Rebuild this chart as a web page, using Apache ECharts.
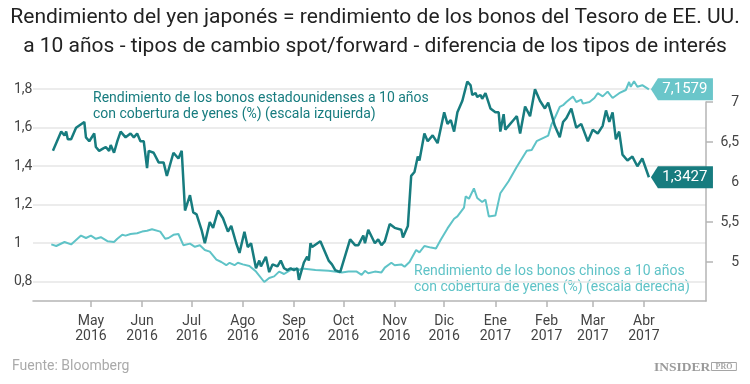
<!DOCTYPE html>
<html><head><meta charset="utf-8">
<script src="https://cdn.jsdelivr.net/npm/echarts@6/dist/echarts.min.js"></script>
<style>html,body{margin:0;padding:0;background:#fff}#c{width:750px;height:384px}</style>
</head><body><div id="c"></div>
<script>
const titleLines = ['Rendimiento del yen japonés = rendimiento de los bonos del Tesoro de EE. UU.',
  'a 10 años - tipos de cambio spot/forward - diferencia de los tipos de interés'];
const usLabel = ['Rendimiento de los bonos estadounidenses a 10 años', 'con cobertura de yenes (%) (escala izquierda)'];
const cnLabel = ['Rendimiento de los bonos chinos a 10 años', 'con cobertura de yenes (%) (escala derecha)'];
const sourceText = 'Fuente: Bloomberg';

const usDates = ['2016-04-08','2016-04-13','2016-04-15','2016-04-16','2016-04-17','2016-04-19','2016-04-22','2016-04-23','2016-04-27','2016-04-28','2016-04-30',
'2016-05-03','2016-05-04','2016-05-06','2016-05-08','2016-05-10','2016-05-12','2016-05-13','2016-05-15','2016-05-17','2016-05-19','2016-05-22','2016-05-25','2016-05-27','2016-05-29','2016-05-31',
'2016-06-02','2016-06-04','2016-06-05','2016-06-08','2016-06-11','2016-06-14','2016-06-16','2016-06-20','2016-06-23','2016-06-25','2016-06-27','2016-06-30',
'2016-07-02','2016-07-04','2016-07-07','2016-07-09','2016-07-12','2016-07-14','2016-07-17','2016-07-20','2016-07-23','2016-07-25','2016-07-28','2016-07-30',
'2016-08-02','2016-08-04','2016-08-06','2016-08-09','2016-08-11','2016-08-12','2016-08-15','2016-08-17','2016-08-19','2016-08-22','2016-08-24','2016-08-26','2016-08-28','2016-08-30',
'2016-09-01','2016-09-03','2016-09-04','2016-09-07','2016-09-09','2016-09-10','2016-09-11','2016-09-12','2016-09-17','2016-09-22','2016-09-24','2016-09-26','2016-09-29',
'2016-10-05','2016-10-08','2016-10-10','2016-10-13','2016-10-14','2016-10-16','2016-10-20','2016-10-22','2016-10-24','2016-10-26','2016-10-29',
'2016-11-01','2016-11-05','2016-11-06','2016-11-09','2016-11-11','2016-11-13','2016-11-15','2016-11-16','2016-11-19','2016-11-21','2016-11-24','2016-11-27',
'2016-12-01','2016-12-03','2016-12-05','2016-12-07','2016-12-09','2016-12-12','2016-12-15','2016-12-17','2016-12-18','2016-12-20','2016-12-21','2016-12-23','2016-12-24','2016-12-26','2016-12-29',
'2017-01-01','2017-01-03','2017-01-04','2017-01-06','2017-01-07','2017-01-10','2017-01-12','2017-01-14','2017-01-16','2017-01-19','2017-01-22','2017-01-25','2017-01-28','2017-01-31',
'2017-02-02','2017-02-06','2017-02-09','2017-02-11','2017-02-13','2017-02-16','2017-02-19','2017-02-22','2017-02-26',
'2017-03-01','2017-03-04','2017-03-07','2017-03-09','2017-03-11','2017-03-13','2017-03-15','2017-03-17','2017-03-19','2017-03-22','2017-03-25','2017-03-28','2017-03-31','2017-04-04'];
const usValues = [1.48,1.58,1.56,1.58,1.54,1.54,1.60,1.59,1.63,1.55,1.53,
1.57,1.50,1.48,1.49,1.50,1.48,1.51,1.47,1.53,1.58,1.55,1.57,1.55,1.57,1.53,
1.53,1.39,1.48,1.47,1.42,1.42,1.35,1.47,1.44,1.48,1.17,1.25,
1.16,1.15,1.07,1.00,1.11,1.08,1.17,1.13,1.06,1.09,1.00,0.95,
1.06,0.98,1.00,0.87,0.91,0.88,0.93,0.85,0.89,0.88,0.91,0.87,0.86,0.87,
0.86,0.87,0.81,0.90,0.93,0.91,1.00,0.98,1.01,0.91,0.89,0.86,0.85,
1.02,0.99,0.99,1.04,1.00,1.07,1.00,1.02,0.99,1.01,1.10,
1.08,1.07,1.03,1.09,1.35,1.37,1.45,1.43,1.57,1.53,1.56,1.52,
1.68,1.62,1.64,1.58,1.68,1.74,1.84,1.82,1.77,1.78,1.76,1.77,1.75,1.78,1.70,
1.68,1.68,1.58,1.67,1.59,1.62,1.64,1.66,1.57,1.71,1.66,1.80,1.74,1.70,
1.73,1.61,1.55,1.63,1.65,1.70,1.60,1.62,1.53,
1.59,1.57,1.61,1.69,1.63,1.68,1.54,1.58,1.46,1.43,1.45,1.40,1.44,1.3427];

const cnDates = ['2016-04-07','2016-04-10','2016-04-15','2016-04-19','2016-04-25','2016-04-28',
'2016-05-01','2016-05-04','2016-05-07','2016-05-11','2016-05-15','2016-05-17','2016-05-20','2016-05-22','2016-05-25','2016-05-29',
'2016-06-01','2016-06-04','2016-06-07','2016-06-12','2016-06-15','2016-06-17','2016-06-20','2016-06-23','2016-06-26','2016-06-30',
'2016-07-03','2016-07-06','2016-07-09','2016-07-12','2016-07-16','2016-07-19','2016-07-22','2016-07-24','2016-07-27','2016-07-29',
'2016-08-01','2016-08-05','2016-08-09','2016-08-14','2016-08-17','2016-08-20','2016-08-23','2016-08-26','2016-08-29',
'2016-09-01','2016-09-04','2016-09-06','2016-09-14','2016-09-22','2016-09-30',
'2016-10-04','2016-10-09','2016-10-12','2016-10-14','2016-10-16','2016-10-20','2016-10-24','2016-10-26','2016-10-30',
'2016-11-01','2016-11-05','2016-11-07','2016-11-10','2016-11-14','2016-11-16','2016-11-19','2016-11-23','2016-11-26','2016-11-29',
'2016-12-03','2016-12-07','2016-12-09','2016-12-13','2016-12-14','2016-12-16','2016-12-19','2016-12-21','2016-12-24','2016-12-26','2016-12-28',
'2017-01-01','2017-01-04','2017-01-09','2017-01-14','2017-01-20','2017-01-23','2017-01-26',
'2017-02-02','2017-02-04','2017-02-06','2017-02-09','2017-02-11','2017-02-13','2017-02-17','2017-02-19','2017-02-22','2017-02-23','2017-02-27',
'2017-03-02','2017-03-04','2017-03-07','2017-03-10','2017-03-13','2017-03-17','2017-03-21','2017-03-23','2017-03-24','2017-03-26','2017-03-28','2017-03-31','2017-04-04'];
const cnValues = [5.22,5.20,5.25,5.22,5.33,5.30,
5.33,5.29,5.31,5.26,5.25,5.29,5.34,5.33,5.35,5.36,
5.38,5.39,5.41,5.38,5.29,5.30,5.34,5.35,5.21,5.23,
5.19,5.21,5.15,5.13,5.03,5.00,4.96,4.99,4.96,4.99,
4.97,4.95,4.88,4.75,4.80,4.82,4.88,4.85,4.89,
4.92,4.90,4.92,4.90,4.89,4.87,
4.88,4.88,4.84,4.89,4.86,4.88,4.87,4.93,4.99,
4.96,4.97,4.94,5.00,5.15,5.12,5.20,5.18,5.17,5.28,
5.42,5.54,5.57,5.68,5.82,5.79,5.92,5.80,5.75,5.78,5.57,
5.58,5.86,6.01,6.19,6.39,6.40,6.51,
6.58,6.72,6.80,6.94,6.96,7.00,7.07,7.00,7.03,6.98,7.00,
7.05,7.11,7.07,7.13,7.05,7.11,7.15,7.25,7.19,7.26,7.19,7.21,7.1579];

const monthTickDates = ['2016-05-01','2016-06-01','2016-07-01','2016-08-01','2016-09-01','2016-10-01','2016-11-01','2016-12-01','2017-01-01','2017-02-01','2017-03-01','2017-04-01'];
const monthTickLabels = ['May\n2016','Jun\n2016','Jul\n2016','Ago\n2016','Sep\n2016','Oct\n2016','Nov\n2016','Dic\n2016','Ene\n2017','Feb\n2017','Mar\n2017','Abr\n2017'];
const leftTicks = [0.8, 1, 1.2, 1.4, 1.6, 1.8];
const rightTicks = [5, 5.5, 6, 6.5, 7];

const DARK = '#177c7f', LIGHT = '#5fc3c7', DARK_TAG = '#177c7f', LIGHT_TAG = '#6ac6ca';
const FONT = 'Roboto';
const fmtNum = v => String(v).replace('.', ',');
const T = s => Date.parse(s.length === 10 ? s + 'T00:00:00Z' : s + 'Z');
const xMin = T('2016-03-26T22:00:00'), xMax = T('2017-05-08T14:00:00');
const tickTimes = monthTickDates.map(T);
const tagPath = 'path://M0,11 L7,0 L62,0 L62,22 L7,22 Z';

const usData = usDates.map((d, i) => [T(d), usValues[i]]);
const cnData = cnDates.map((d, i) => [T(d), cnValues[i]]);
const usLast = usData[usData.length - 1], cnLast = cnData[cnData.length - 1];

const gridBase = {left: 33, right: 44, bottom: 83};
const chart = echarts.init(document.getElementById('c'), null, {renderer: 'canvas'});
const hiddenX = i => ({type: 'value', gridIndex: i, min: xMin, max: xMax, show: false});

chart.setOption({
  animation: false,
  backgroundColor: '#fff',
  title: {
    text: titleLines.join('\n'), left: 'center', top: 3, padding: 0,
    textStyle: {fontFamily: FONT, fontSize: 21, fontWeight: 'normal', color: '#222', lineHeight: 29}
  },
  grid: [
    Object.assign({top: 79.6}, gridBase),
    Object.assign({top: 78}, gridBase),
    Object.assign({top: 102}, gridBase)
  ],
  xAxis: [
    {
      type: 'value', gridIndex: 0, min: xMin, max: xMax,
      axisLine: {show: true, lineStyle: {color: '#b5b5b5', width: 1.5}},
      axisTick: {show: true, length: 6, customValues: tickTimes, lineStyle: {color: '#b5b5b5', width: 1.5}},
      splitLine: {show: false},
      axisLabel: {
        customValues: tickTimes, margin: 13, fontFamily: FONT, fontSize: 14, lineHeight: 15, color: '#444',
        formatter: function (val) {
          let best = 0;
          for (let i = 1; i < tickTimes.length; i++) if (Math.abs(tickTimes[i] - val) < Math.abs(tickTimes[best] - val)) best = i;
          return monthTickLabels[best];
        }
      }
    },
    hiddenX(1), hiddenX(2)
  ],
  yAxis: [
    {
      type: 'value', gridIndex: 0, min: 0.7, max: 1.85,
      axisLine: {show: false},
      axisTick: {show: false, customValues: leftTicks},
      splitLine: {show: true, lineStyle: {color: '#e6e6e6', width: 1.5}},
      axisLabel: {customValues: leftTicks, align: 'left', margin: 19, fontFamily: FONT, fontSize: 14, color: '#444', formatter: fmtNum}
    },
    {type: 'value', gridIndex: 1, min: 4.5125, max: 7.3, show: false},
    {
      type: 'value', gridIndex: 2, min: 4.5125, max: 7, position: 'right',
      axisLine: {show: true, lineStyle: {color: '#b5b5b5', width: 1.5}},
      axisTick: {show: true, length: 7, customValues: rightTicks, lineStyle: {color: '#b5b5b5', width: 1.5}},
      splitLine: {show: false},
      axisLabel: {customValues: rightTicks, align: 'right', margin: 33, fontFamily: FONT, fontSize: 14, color: '#444', formatter: fmtNum}
    }
  ],
  series: [
    {
      name: cnLabel.join(' '), type: 'line', xAxisIndex: 1, yAxisIndex: 1, data: cnData,
      symbol: 'none', clip: false, z: 2,
      lineStyle: {color: LIGHT, width: 2}, itemStyle: {color: LIGHT},
      markPoint: {
        symbol: tagPath, symbolSize: [62, 22], symbolOffset: [33, 0], silent: true,
        itemStyle: {color: LIGHT_TAG},
        label: {show: true, position: 'inside', offset: [3, 0], color: '#fff', fontFamily: FONT, fontSize: 15, formatter: () => fmtNum(cnLast[1])},
        data: [{coord: cnLast, value: cnLast[1]}]
      }
    },
    {
      name: usLabel.join(' '), type: 'line', xAxisIndex: 0, yAxisIndex: 0, data: usData,
      symbol: 'none', clip: false, z: 3,
      lineStyle: {color: DARK, width: 2.5}, itemStyle: {color: DARK},
      markPoint: {
        symbol: tagPath, symbolSize: [62, 22], symbolOffset: [33, 0], silent: true,
        itemStyle: {color: DARK_TAG},
        label: {show: true, position: 'inside', offset: [3, 0], color: '#fff', fontFamily: FONT, fontSize: 15, formatter: () => fmtNum(usLast[1])},
        data: [{coord: usLast, value: usLast[1]}]
      }
    }
  ],
  graphic: [
    {type: 'text', left: 93, top: 90, silent: true,
      style: {text: usLabel.join('\n'), fill: DARK, font: '14px ' + FONT, lineHeight: 16}},
    {type: 'text', left: 414, top: 263, silent: true,
      style: {text: cnLabel.join('\n'), fill: LIGHT, font: '14px ' + FONT, lineHeight: 16.5}},
    {type: 'text', left: 12, top: 359, silent: true,
      style: {text: sourceText, fill: '#aaa', font: '14px ' + FONT}},
    {type: 'text', left: 654, top: 361, silent: true,
      style: {text: 'INSIDER', fill: '#9a9a9a', font: 'bold 13.5px "Liberation Serif"'}},
    {type: 'text', left: 711, top: 362, silent: true,
      style: {text: 'PRO', fill: '#a5a5a5', font: 'bold 8px "Liberation Serif"', borderColor: '#a5a5a5', borderWidth: 1, padding: [0, 4]}}
  ]
});
</script>
</body></html>
